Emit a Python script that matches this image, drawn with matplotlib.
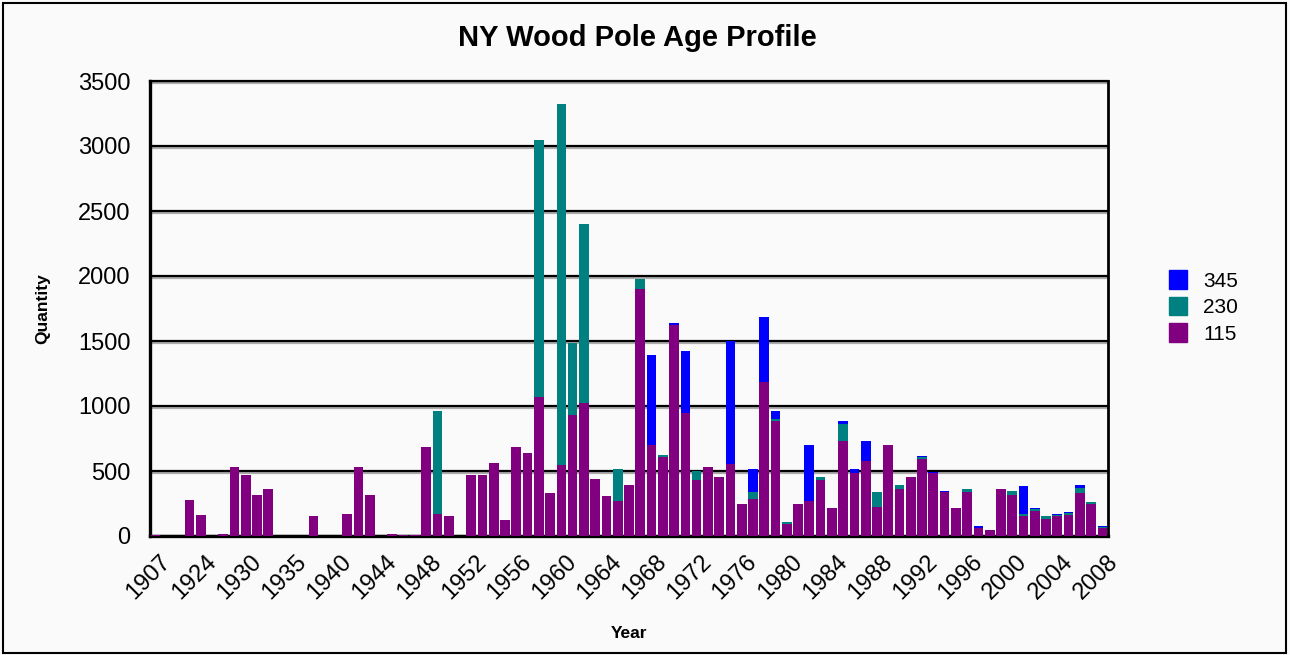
import matplotlib.pyplot as plt
import matplotlib.patheffects as pe
import matplotlib.transforms as mtransforms
from matplotlib.patches import Rectangle, Patch
import numpy as np

plt.rcParams['font.family'] = ['Liberation Sans', 'DejaVu Sans']

# categories (years with poles installed)
years = [1907, 1912, 1918, 1921, 1924, 1925, 1926, 1928, 1930, 1931,
         1932, 1933, 1935, 1936, 1937, 1938, 1940, 1941, 1942, 1943] + list(range(1944, 2009))

# quantity per voltage class
kv115 = [5, 3, 3, 275, 165, 3, 12, 534, 472, 319,
         365, 3, 3, 3, 151, 3, 3, 166, 534, 319,
         3, 13, 5, 5, 687, 166, 151, 3, 472, 472,
         564, 120, 687, 641, 1070, 334, 549, 932, 1024, 442,
         304, 273, 396, 1897, 702, 610, 1622, 947, 427, 534,
         457, 557, 243, 281, 1185, 886, 90, 243, 273, 434,
         212, 733, 488, 580, 220, 702, 365, 457, 595, 488,
         335, 212, 342, 59, 43, 365, 319, 151, 189, 128,
         151, 158, 334, 243, 59]
kv230 = [0] * 25 + [796, 0, 0, 0, 0,
         0, 0, 0, 0, 1976, 0, 2773, 552, 1377, 0,
         0, 246, 0, 77, 0, 16, 0, 0, 76, 0,
         0, 0, 0, 54, 0, 16, 15, 0, 0, 23,
         0, 130, 0, 0, 115, 0, 31, 0, 15, 0,
         0, 0, 23, 0, 0, 0, 31, 15, 15, 23,
         8, 16, 39, 15, 8]
kv345 = [0] * 44 + [690, 0, 16, 476, 0, 0,
         0, 943, 0, 184, 498, 61, 0, 0, 429, 0,
         0, 23, 31, 153, 0, 0, 0, 0, 8, 5,
         12, 0, 0, 15, 0, 0, 0, 215, 8, 0,
         7, 7, 23, 0, 7]

bg = '#fafafa'
fig = plt.figure(figsize=(12.9, 6.55), dpi=100, facecolor=bg)
ax = fig.add_axes([150 / 1290, 1 - 536 / 655, 958 / 1290, 455 / 655], facecolor=bg)

x = np.arange(len(years))
a = np.array(kv115)
b = np.array(kv230)
c = np.array(kv345)
w = 0.86
ax.bar(x, a, w, color='#800080', zorder=3)
ax.bar(x, b, w, bottom=a, color='#008080', zorder=3)
ax.bar(x, c, w, bottom=a + b, color='#0000ff', zorder=3)

ax.set_xlim(-0.5, len(years) - 0.5)
ax.set_ylim(0, 3500)
ax.set_yticks(range(0, 3501, 500))
ax.yaxis.grid(True, color='black', linewidth=1.6, zorder=1)
for gl in ax.get_ygridlines():
    gl.set_path_effects([pe.SimpleLineShadow(offset=(0, -1.5), shadow_color='#999999', alpha=0.8),
                         pe.Normal()])

ticks = x[::4]
ax.set_xticks(ticks)
ax.set_xticklabels([str(years[i]) for i in ticks], rotation=45, ha='right',
                   va='center', rotation_mode='anchor', fontsize=17)
ax.tick_params(axis='both', length=0, labelsize=17)
ax.tick_params(axis='x', pad=16)
ax.tick_params(axis='y', pad=14)
shift = mtransforms.ScaledTranslation(12 / 100, 0, fig.dpi_scale_trans)
for lbl in ax.get_xticklabels():
    lbl.set_transform(lbl.get_transform() + shift)

for s in ['left', 'bottom']:
    ax.spines[s].set_linewidth(2.4)
ax.spines['right'].set_linewidth(2)
ax.spines['top'].set_linewidth(1.6)

ax.set_ylabel('Quantity', fontsize=12.5, fontweight='bold', labelpad=20)
ax.set_xlabel('Year', fontsize=12.5, fontweight='bold', labelpad=16)

fig.text(0.494, 1 - 38 / 655, 'NY Wood Pole Age Profile', fontsize=21,
         fontweight='bold', ha='center', va='center')

handles = [Patch(color='#0000ff', label='345'),
           Patch(color='#008080', label='230'),
           Patch(color='#800080', label='115')]
fig.legend(handles=handles, loc='center left', bbox_to_anchor=(1169 / 1290, 1 - 307 / 655),
           frameon=False, fontsize=15, handlelength=0.85, handleheight=1.0,
           handletextpad=0.8, labelspacing=0.3, borderpad=0, borderaxespad=0)

fig.patches.append(Rectangle((0.002, 0.003), 0.995, 0.992, transform=fig.transFigure,
                             fill=False, edgecolor='black', linewidth=1.5))

fig.savefig('out.png', dpi=100, facecolor=bg)
